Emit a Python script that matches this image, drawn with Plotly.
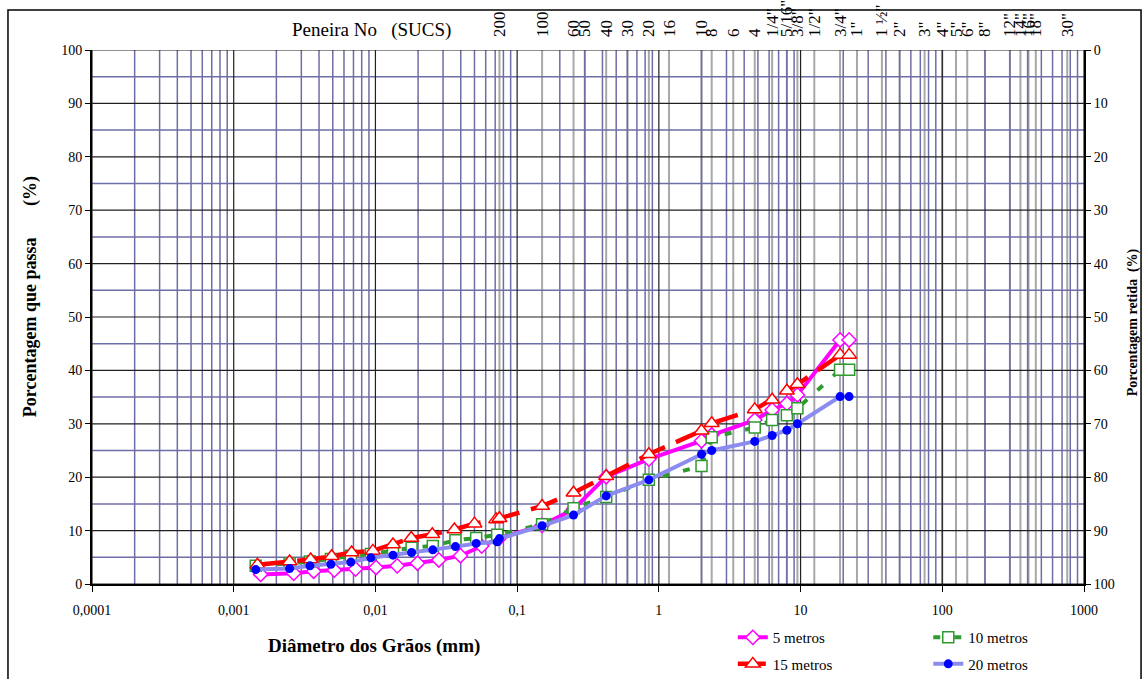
import plotly.graph_objects as go

# --- Grain-size distribution data (diameter in mm, percent passing) ---
d_5m = [0.00155, 0.00265, 0.00367, 0.00513, 0.00724, 0.0101, 0.01425, 0.0198, 0.028, 0.0398,
        0.0562, 0.075, 0.15, 0.25, 0.425, 0.85, 2.0, 2.36, 4.75, 6.3, 8.0, 9.5, 19.0, 22.0]
p_5m = [1.8, 2.0, 2.4, 2.6, 2.8, 3.1, 3.4, 3.9, 4.5, 5.3,
        7.1, 8.6, 11.0, 14.0, 20.1, 23.4, 26.8, 27.9, 30.7, 32.6, 33.8, 35.4, 45.7, 45.7]

d_10m = [0.00143, 0.00248, 0.00345, 0.00485, 0.00671, 0.00929, 0.0133, 0.018, 0.0254, 0.0367,
         0.0514, 0.0723, 0.15, 0.25, 0.425, 0.85, 2.0, 2.36, 4.75, 6.3, 8.0, 9.5, 19.0, 22.0]
p_10m = [3.4, 3.9, 4.2, 4.7, 5.3, 5.6, 6.3, 6.8, 7.1, 8.2,
         8.6, 9.2, 11.2, 14.2, 16.3, 19.5, 22.1, 27.5, 29.3, 30.7, 31.6, 32.9, 40.1, 40.1]

d_15m = [0.00147, 0.00248, 0.00349, 0.00491, 0.00679, 0.00959, 0.0133, 0.0179, 0.0252, 0.0361,
         0.05, 0.0711, 0.075, 0.15, 0.25, 0.425, 0.85, 2.0, 2.36, 4.75, 6.3, 8.0, 9.5, 19.0, 22.0]
p_15m = [3.6, 4.2, 4.6, 5.2, 5.9, 6.2, 7.4, 8.6, 9.3, 10.2,
         11.3, 12.1, 12.3, 14.6, 17.1, 20.2, 24.3, 28.7, 30.1, 32.7, 34.5, 36.2, 37.4, 42.9, 42.9]

d_20m = [0.00143, 0.00248, 0.00345, 0.00485, 0.00671, 0.00929, 0.0133, 0.018, 0.0254, 0.0367,
         0.0514, 0.0723, 0.075, 0.15, 0.25, 0.425, 0.85, 2.0, 2.36, 4.75, 6.3, 8.0, 9.5, 19.0, 22.0]
p_20m = [2.7, 2.9, 3.4, 3.7, 4.1, 4.9, 5.4, 5.9, 6.4, 7.0,
         7.6, 7.9, 8.5, 10.9, 12.9, 16.5, 19.5, 24.3, 25.0, 26.7, 27.8, 28.8, 30.0, 35.1, 35.1]

# --- Sieve openings (mm) and their designations ---
sieve_mm = [0.075, 0.15, 0.25, 0.3, 0.425, 0.6, 0.85, 1.18, 2.0, 2.36, 3.35, 4.75,
            6.3, 8.0, 9.5, 12.5, 19.0, 25.0, 37.5, 50.0, 75.0, 100.0, 125.0, 150.0,
            200.0, 300.0, 356.0, 406.0, 457.0, 762.0]
sieve_labels = ["200", "100", "60", "50", "40", "30", "20", "16", "10", "8", "6", "4",
                '1/4"', '5/16"', '3/8"', '1/2"', '3/4"', '1"', '1 ½"', '2"', '3"', '4"', '5"', '6"',
                '8"', '12"', '14"', '16"', '18"', '30"']

# --- Axis ticks ---
decades = [0.0001, 0.001, 0.01, 0.1, 1, 10, 100, 1000]
decade_labels = ["0,0001", "0,001", "0,01", "0,1", "1", "10", "100", "1000"]
pct_ticks = [0, 10, 20, 30, 40, 50, 60, 70, 80, 90, 100]
half_ticks = [5, 15, 25, 35, 45, 55, 65, 75, 85, 95]
minor_x = [m * d for d in decades[:-1] for m in range(2, 10)]

FONT = "Liberation Serif, Times New Roman, serif"
GRID_BLUE = "#6E6EA6"


def vlines(xs):
    xx, yy = [], []
    for v in xs:
        xx += [v, v, None]
        yy += [0, 100, None]
    return xx, yy


def hlines(ys):
    xx, yy = [], []
    for v in ys:
        xx += [decades[0], decades[-1], None]
        yy += [v, v, None]
    return xx, yy


fig = go.Figure()

grid_common = dict(mode="lines", hoverinfo="skip", showlegend=False)
gx, gy = vlines(sieve_mm)
fig.add_trace(go.Scatter(x=gx, y=gy, line=dict(color="#A8A8A8", width=2), **grid_common))
gx, gy = vlines(minor_x)
fig.add_trace(go.Scatter(x=gx, y=gy, line=dict(color=GRID_BLUE, width=1.5), **grid_common))
gx, gy = hlines(half_ticks)
fig.add_trace(go.Scatter(x=gx, y=gy, line=dict(color=GRID_BLUE, width=1.5), **grid_common))
gx, gy = hlines(pct_ticks)
fig.add_trace(go.Scatter(x=gx, y=gy, line=dict(color="#202020", width=1.2), **grid_common))
gx, gy = vlines(decades)
fig.add_trace(go.Scatter(x=gx, y=gy, line=dict(color="#202020", width=1.2), **grid_common))

# --- Data series ---
fig.add_trace(go.Scatter(
    x=d_5m, y=p_5m, name="5 metros", mode="lines+markers", legend="legend", legendgroup="a",
    line=dict(color="#FF00FF", width=4),
    marker=dict(symbol="diamond", size=11, color="white", line=dict(color="#FF00FF", width=1.5)),
))
fig.add_trace(go.Scatter(
    x=d_10m, y=p_10m, name="10 metros", mode="lines+markers", legend="legend2", legendgroup="b",
    line=dict(color="#2F9A2F", width=4, dash="7px,14px"),
    marker=dict(symbol="square", size=11, color="white", line=dict(color="#2F9A2F", width=1.5)),
))
fig.add_trace(go.Scatter(
    x=d_15m, y=p_15m, name="15 metros", mode="lines+markers", legend="legend", legendgroup="c",
    line=dict(color="#FF0000", width=4.5, dash="28px,12px"),
    marker=dict(symbol="triangle-up", size=13, color="white", line=dict(color="#FF0000", width=1.5)),
))
fig.add_trace(go.Scatter(
    x=d_20m, y=p_20m, name="20 metros", mode="lines+markers", legend="legend2", legendgroup="d",
    line=dict(color="#8C8CF0", width=4),
    marker=dict(symbol="circle", size=9, color="#0000FF"),
))

# Empty traces that bind the auxiliary axes (sieve numbers / percent retained)
fig.add_trace(go.Scatter(x=[], y=[], xaxis="x2", yaxis="y", showlegend=False, hoverinfo="skip"))
fig.add_trace(go.Scatter(x=[], y=[], xaxis="x", yaxis="y2", showlegend=False, hoverinfo="skip"))

tickfont = dict(family=FONT, size=14, color="black")
legend_common = dict(
    orientation="v", xanchor="left", yanchor="top", tracegroupgap=4,
    font=dict(family=FONT, size=15, color="black"), bgcolor="rgba(0,0,0,0)",
)

fig.update_layout(
    width=1144, height=679,
    margin=dict(l=92, r=60, t=50, b=95, autoexpand=False),
    paper_bgcolor="white", plot_bgcolor="white",
    font=dict(family=FONT, color="black"),
    xaxis=dict(
        type="log", range=[-4, 3], tickmode="array", tickvals=decades, ticktext=decade_labels,
        showgrid=False, zeroline=False, showline=True, linecolor="black", linewidth=2,
        ticks="outside", ticklen=6, tickcolor="black", tickfont=dict(family=FONT, size=14, color="black"),
        ticklabelstandoff=6, automargin=False,
    ),
    xaxis2=dict(
        type="log", range=[-4, 3], overlaying="x", side="top", anchor="y",
        tickmode="array", tickvals=sieve_mm, ticktext=sieve_labels, tickangle=-90,
        showgrid=False, zeroline=False, showline=False, ticks="", automargin=False,
        tickfont=dict(family=FONT, size=17, color="black"), ticklabelstandoff=12,
    ),
    yaxis=dict(
        range=[0, 100], tickmode="array", tickvals=pct_ticks, automargin=False,
        showgrid=False, zeroline=False, showline=True, linecolor="black", linewidth=2,
        ticks="outside", ticklen=5, tickcolor="black", tickfont=tickfont,
    ),
    yaxis2=dict(
        range=[100, 0], overlaying="y", side="right", anchor="x", tickmode="array", tickvals=pct_ticks,
        showgrid=False, zeroline=False, showline=True, linecolor="black", linewidth=2, automargin=False,
        ticks="outside", ticklen=5, tickcolor="black", tickfont=tickfont,
    ),
    legend=dict(x=0.646, y=-0.0695, **legend_common),
    legend2=dict(x=0.843, y=-0.0695, **legend_common),
    shapes=[dict(type="rect", xref="paper", yref="paper", x0=-0.0847, x1=1.0575, y0=-0.2, y1=1.0749,
                 line=dict(color="black", width=1.5), fillcolor="rgba(0,0,0,0)", layer="below")],
    annotations=[
        dict(text="Peneira No\u00a0\u00a0\u00a0(SUCS)", xref="paper", yref="paper", x=0.282, y=1.0375,
             showarrow=False, font=dict(family=FONT, size=19, color="black"),
             xanchor="center", yanchor="middle"),
        dict(text="<b>Diâmetro dos Grãos (mm)</b>", xref="paper", yref="paper", x=0.284, y=-0.116,
             showarrow=False, font=dict(family=FONT, size=19, color="black"),
             xanchor="center", yanchor="middle"),
        dict(text="<b>Porcentagem que passa" + "\u00a0" * 7 + "(%)</b>", xref="paper", yref="paper",
             x=-0.0625, y=0.537, textangle=-90, showarrow=False,
             font=dict(family=FONT, size=18, color="black"), xanchor="center", yanchor="middle"),
        dict(text="<b>Porcentagem retida\u00a0\u00a0(%)</b>", xref="paper", yref="paper",
             x=1.0494, y=0.49, textangle=-90, showarrow=False,
             font=dict(family=FONT, size=14, color="black"), xanchor="center", yanchor="middle"),
    ],
)

fig.write_html("out.html")
